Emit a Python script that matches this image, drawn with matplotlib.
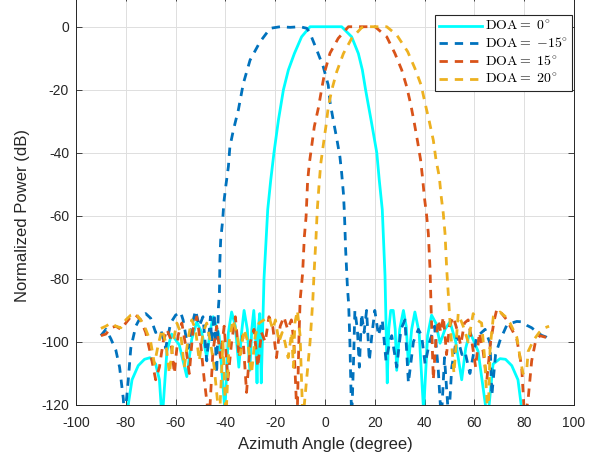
import matplotlib
matplotlib.use("Agg")
import matplotlib.pyplot as plt

# ---------------- data ----------------
cyan_x = [-80, -77.5, -75, -72.5, -70.3, -68, -66.5, -65.4, -63.5, -61.6, -58.5, -55.5,
          -53.5, -51.5, -49.5, -47.5, -46, -44.9, -42.5, -40.2, -38.8, -37.5, -36, -34.6,
          -33.5, -32.5, -31.2, -30.2, -29.4, -28.6, -27.9, -27.3, -26.8, -26.2, -25.6,
          -25.0, -24.5, -23.0, -21.8, -20.5, -18.7, -16.7, -14.7, -12.3, -9.4, -6.0, -3.0,
          0.0, 3.0, 6.7, 10.7, 13.4, 15.0, 16.3, 18.5, 20.8, 21.8, 23.0, 24.1, 25.0, 25.6,
          26.4, 27.4, 28.2, 28.8, 30.0, 31.5, 32.6, 33.5, 34.8, 36.1, 37.8, 39.6, 41.2,
          42.8, 44.5, 46.2, 48.2, 50.2, 52.5, 54.9, 56.5, 58.2, 61.5, 65.3, 67.5, 70.3,
          72.5, 75, 77.5, 79.6]
cyan_y = [-125, -112, -107.5, -105.5, -105, -107, -112, -125, -103, -97.5, -101, -111,
          -99, -93.7, -97, -104.8, -96, -92, -98, -122, -97, -90.5, -95, -108,
          -97, -90, -96, -109, -96, -90, -98, -113, -96, -91, -113,
          -95, -80, -58, -48.7, -40, -29.6, -20, -13.7, -8.5, -3.2, 0, 0,
          0, 0, 0, -3.2, -8.5, -13.7, -20, -29.6, -40, -48.7, -58, -79, -113, -96,
          -90, -90, -96, -109, -96, -90, -95, -107, -96, -90.5, -97, -122, -98,
          -91.5, -94, -100.4, -96, -93.6, -100, -112, -102, -96.8, -103, -125, -107, -105.3,
          -105.5, -107.5, -112, -125]

blue_x = [-90, -88, -86, -84, -82.5, -81, -80.5, -79, -78, -76, -74, -72, -70, -68,
          -66, -64, -62, -60, -58, -57, -55, -53.5, -52, -50.5, -49, -47.5, -46,
          -45.5, -44.5, -43.5, -42.8, -42.4, -42.2, -41.9, -41.1, -40.6, -39.8, -38.8,
          -38.2, -36.8, -34.8, -32.8, -30.1, -26.1, -22, -18, -14, -10, -7.3, -6.0,
          -3.3, -0.7, 1.3, 2.0, 3.3, 4.7, 6.0, 6.7, 7.4, 7.8, 8.3, 9.0, 9.5, 10.0,
          10.7, 11.5, 12.0, 13.0, 13.8, 14.7, 15.7, 16.7, 17.8, 18.8, 20.0, 21.5, 23.0,
          24.5, 26.0, 26.8, 28.8, 30.5, 32.1, 33.5, 35.5, 37.5, 38.8, 40.2, 42.0, 44.0,
          45.5, 46.7, 48.0, 49.7, 50.9, 53.0, 55.0, 56.2, 58.2, 60.9, 64.3, 66.3, 67.0,
          68.5, 70.3, 73.0, 75.0, 77.0, 79.0, 81.0, 83.0, 85.0, 87.0, 89.0, 90.0]
blue_y = [-98, -96, -99, -102.6, -108, -118, -125, -112, -102, -95, -92, -91, -92.5, -97,
          -96, -102, -94, -91.5, -90.5, -93, -102, -95, -90, -95, -92, -106, -92,
          -100, -91, -110, -89, -84.6, -74, -67.7, -61.4, -55.6, -50.3, -44.4,
          -38.1, -32.8, -26.4, -18, -10.6, -4.8, -0.5, 0, -0.2, 0, -0.5, -2.1,
          -7.4, -12.7, -18.5, -23.8, -29.6, -35.4, -41.3, -46.5, -52.9, -59.2, -70.9, -82.5, -88, -100,
          -125, -105, -90, -96, -108, -91, -97, -90, -106, -98, -90, -98, -93,
          -106, -100, -98, -108, -96, -93, -113, -100, -96, -98, -107, -100, -95,
          -109, -125, -105, -125, -108, -98, -104, -103, -110, -98.4, -96, -100.5, -117,
          -104, -99.5, -94.7, -94, -93.5, -93.6, -94.7, -95.5, -96.8, -97.9, -98.5, -99]

orange_x = [-90, -88, -86, -84, -82, -80, -78, -76, -74, -72, -70, -68, -66.5, -65,
            -63.5, -62, -60.5, -59, -57.5, -56, -54.5, -53, -51.5, -50, -48.5, -46.5,
            -45, -43.5, -42, -40.5, -39, -37.5, -36, -34.5, -33, -31.5, -30, -28.5, -27,
            -25.5, -24, -22.5, -21, -19.5, -18, -16.5, -15, -13.5, -12.5, -11.2, -10.5,
            -10.0, -9.0, -8.3, -7.6, -7.0, -6.3, -5.3, -4.3, -2.7, -1.3, 0.0, 2.0, 5.3,
            9.4, 13, 17, 20.1, 24.8, 28.1, 30.8, 32.8, 34.5, 35.9, 37.2, 38.4, 39.2, 39.9,
            40.8, 41.5, 42.2, 42.6, 43.5, 44.5, 45.5, 46.5, 47.5, 48.2, 48.8, 50.0, 51.5,
            53.0, 54.5, 56.0, 57.5, 59.0, 60.5, 62.0, 63.5, 65.0, 66.5, 68.0, 69.0, 71.0,
            73.0, 75.0, 77.0, 79.0, 80.2, 81.6, 83.0, 84.5, 86.3, 88.5, 90.0]
orange_y = [-98, -97.5, -95.5, -95, -96, -94, -92, -91.5, -93, -97, -104, -112, -108, -100,
            -96, -99, -110, -98, -94, -101, -110, -96, -92, -100, -112, -125,
            -103, -95, -105, -95, -112, -100, -92, -105, -98, -116, -100, -96, -108,
            -97, -100, -92, -95, -105, -95, -92, -96, -93, -100, -125, -100,
            -86.8, -78.3, -66.7, -60.3, -49.2, -43.4, -37.6, -31.7, -25.9, -19.6, -14, -8.4, -3.7,
            0, 0, 0, 0, -3.2, -8.5, -13.7, -19, -24.9, -30.7, -36.5, -42.3, -48.1, -54,
            -59.8, -65.6, -77.2, -88.9, -112, -100, -93, -97, -92, -98, -104, -95, -92,
            -96, -101, -94, -93, -100, -108, -97, -103, -112, -100, -93, -89.6, -91,
            -93, -96, -99, -108, -125, -118, -106, -100, -98, -98.5, -99]

yellow_x = [-90, -88, -86, -84, -82, -80, -78, -76, -74, -72, -70, -68.5, -67, -65.5,
            -64, -62.5, -61, -59.5, -58, -56.5, -55, -53.5, -52, -50.5, -49, -47.5, -46,
            -44.5, -42.4, -41, -39.8, -38.5, -37, -35.5, -34, -32.5, -31, -29.5, -28,
            -26.5, -24.5, -22.5, -21, -19.9, -18.5, -17.2, -16.1, -14.8, -13.4, -12.7,
            -12.1, -11.1, -10.0, -8.9, -6.0, -4.9, -4.4, -3.6, -3.1, -2.3, -1.7, -0.7,
            0.4, 1.3, 2.7, 4.7, 7.4, 10.7, 14.7, 18, 22, 24.8, 28.8, 33.2, 36.1, 38.6,
            40.2, 41.9, 43.5, 44.6, 45.9, 46.6, 47.5, 48.2, 48.9, 49.5, 50.3, 51.0, 51.8,
            53.5, 55.5, 57.5, 59.5, 61.0, 62.9, 64.0, 65.5, 66.3, 67.6, 70.3, 72.5, 74.3,
            77.0, 78.3, 79.5, 81.0, 81.6, 83.7, 86.0, 87.7, 90.0]
yellow_y = [-95.7, -95, -94, -95, -95.5, -93, -91.5, -91, -93, -96, -100, -107, -101, -96,
            -100, -110, -100, -94, -97, -108, -99, -93, -96, -106, -97, -94, -100,
            -108, -125, -100, -125, -100, -93, -97, -104, -96, -100, -110, -98,
            -94, -93, -92, -96, -93, -100, -97, -100, -105, -97, -108,
            -94, -90, -98, -125, -100, -86.8, -78.3, -66.7, -58, -49.2, -43.4, -37.6,
            -31.4, -25.6, -20.1, -14.3, -8.5, -3.7, -0.3, 0, 0, 0, -2.6, -7.9, -13.2, -18.5,
            -24.3, -30.1, -36, -42.3, -47.6, -53.4, -59.2, -65.6, -77.2, -84.6, -95, -102, -110,
            -91, -95, -100, -91, -93, -94, -104, -125, -102, -92, -90.5, -92, -94,
            -98.4, -104.7, -110, -109, -103, -99.5, -97, -95.7, -95]

labels = [r'$\mathrm{DOA{=}}\ 0^{\circ}$', r'$\mathrm{DOA{=}}\ {-}15^{\circ}$',
          r'$\mathrm{DOA{=}}\ 15^{\circ}$', r'$\mathrm{DOA{=}}\ 20^{\circ}$']
x_ticks = list(range(-100, 101, 20))
y_ticks = list(range(-120, 1, 20))

# ---------------- style ----------------
plt.rcParams['font.family'] = ['Liberation Sans', 'DejaVu Sans']
plt.rcParams['mathtext.fontset'] = 'cm'
plt.rcParams['axes.unicode_minus'] = False

W, H = 596, 457
fig = plt.figure(figsize=(W / 100, H / 100), dpi=100)
left_px, right_px, bottom_px = 76, 574, 405
y0_px, px_per_db = 26.7, 3.15
ytop = 10
top_px = y0_px - ytop * px_per_db
ax_w_px = right_px - left_px
ax_h_px = bottom_px - top_px
ax = fig.add_axes([left_px / W, (H - bottom_px) / H, ax_w_px / W, ax_h_px / H])

c_blue, c_orange, c_yellow, c_cyan = '#0072BD', '#D95319', '#EDB120', '#00FFFF'
lw = 2.0
dash = (0, (3, 2.5))
ax.plot(cyan_x, cyan_y, color=c_cyan, lw=lw, label=labels[0])
ax.plot(blue_x, blue_y, color=c_blue, lw=lw, ls=dash, label=labels[1])
ax.plot(orange_x, orange_y, color=c_orange, lw=lw, ls=dash, label=labels[2])
ax.plot(yellow_x, yellow_y, color=c_yellow, lw=lw, ls=dash, label=labels[3])

ax.set_xlim(-100, 100)
ax.set_ylim(-120, ytop)
ax.set_xticks(x_ticks)
ax.set_yticks(y_ticks)
ax.tick_params(direction='in', top=True, right=True, labelsize=10, length=4,
               width=0.6, colors='#262626', labelcolor='#262626')
ax.tick_params(axis='x', pad=8)
ax.tick_params(axis='y', pad=5)
ax.grid(True, color='#dedede', lw=0.7)
ax.set_axisbelow(True)
for s in ax.spines.values():
    s.set_color('#262626')
    s.set_linewidth(0.7)

ax.set_xlabel('Azimuth Angle (degree)', fontsize=12, color='#262626')
ax.set_ylabel('Normalized Power (dB)', fontsize=12, color='#262626')
ax.xaxis.set_label_coords(0.5, (bottom_px - 437) / ax_h_px)
ax.yaxis.set_label_coords((30 - left_px) / ax_w_px, 0.5 * 0 + ((bottom_px - 215) / ax_h_px))

leg_top_frac = ((y0_px - 15) / px_per_db + 120) / (120 + ytop)
leg = ax.legend(loc='upper right', bbox_to_anchor=((572 - left_px) / ax_w_px, leg_top_frac),
                borderaxespad=0, fontsize=10, handlelength=3.1, handletextpad=0.2,
                labelspacing=0.25, fancybox=False, framealpha=1, edgecolor='#262626',
                borderpad=0.3)
leg.get_frame().set_linewidth(0.8)

fig.savefig('out.png', dpi=100)
